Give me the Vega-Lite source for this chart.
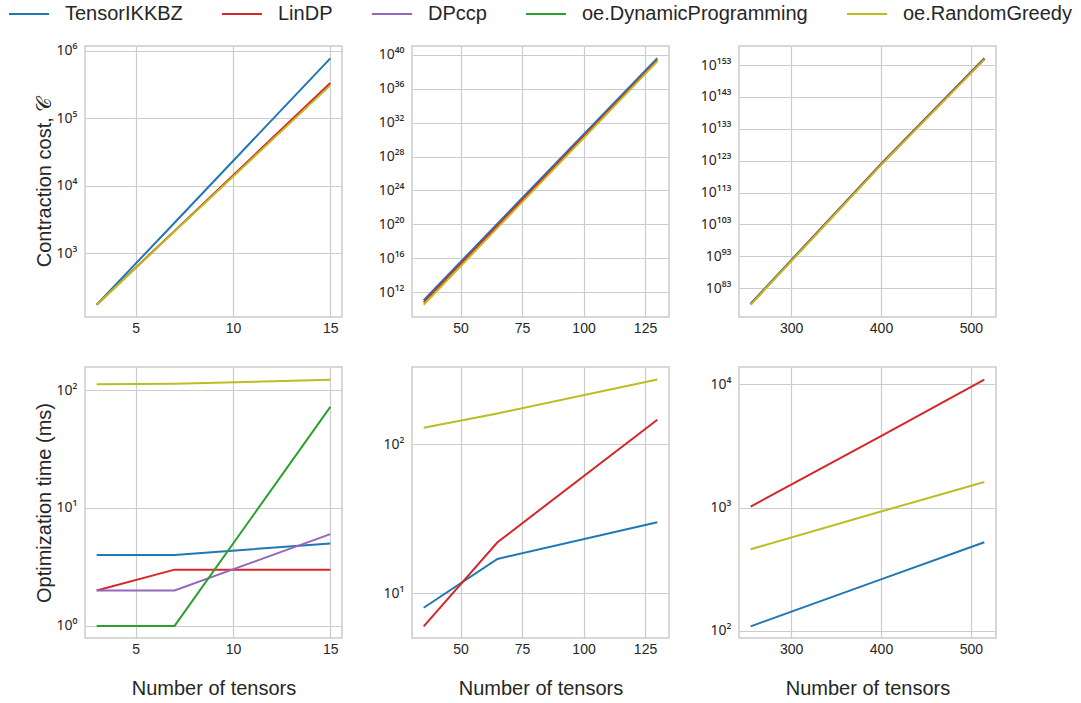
{
  "$schema": "https://vega.github.io/schema/vega-lite/v6.json",
  "background": "white",
  "padding": {"left": 4, "top": 4, "right": 5, "bottom": 5},
  "data": {"values": [
    {"panel": "p1", "method": "TensorIKKBZ", "n": 3, "value": 173},
    {"panel": "p1", "method": "TensorIKKBZ", "n": 7, "value": 2840},
    {"panel": "p1", "method": "TensorIKKBZ", "n": 15, "value": 778000},
    {"panel": "p1", "method": "LinDP", "n": 3, "value": 173},
    {"panel": "p1", "method": "LinDP", "n": 7, "value": 2150},
    {"panel": "p1", "method": "LinDP", "n": 15, "value": 334000},
    {"panel": "p1", "method": "oe.RandomGreedy", "n": 3, "value": 172},
    {"panel": "p1", "method": "oe.RandomGreedy", "n": 7, "value": 2100},
    {"panel": "p1", "method": "oe.RandomGreedy", "n": 15, "value": 309000},
    {"panel": "p2", "method": "TensorIKKBZ", "n": 35, "value": 1.15e11},
    {"panel": "p2", "method": "TensorIKKBZ", "n": 65, "value": 1.26e20},
    {"panel": "p2", "method": "TensorIKKBZ", "n": 130, "value": 3.8e39},
    {"panel": "p2", "method": "LinDP", "n": 35, "value": 6.6e10},
    {"panel": "p2", "method": "LinDP", "n": 65, "value": 7.08e19},
    {"panel": "p2", "method": "LinDP", "n": 130, "value": 2.19e39},
    {"panel": "p2", "method": "oe.RandomGreedy", "n": 35, "value": 3.47e10},
    {"panel": "p2", "method": "oe.RandomGreedy", "n": 65, "value": 3.98e19},
    {"panel": "p2", "method": "oe.RandomGreedy", "n": 130, "value": 1.66e39},
    {"panel": "p3", "method": "TensorIKKBZ", "n": 255, "value": 1.58e78},
    {"panel": "p3", "method": "TensorIKKBZ", "n": 400, "value": 1e122},
    {"panel": "p3", "method": "TensorIKKBZ", "n": 515, "value": 1.26e155},
    {"panel": "p3", "method": "LinDP", "n": 255, "value": 1e78},
    {"panel": "p3", "method": "LinDP", "n": 400, "value": 6.3e121},
    {"panel": "p3", "method": "LinDP", "n": 515, "value": 7.9e154},
    {"panel": "p3", "method": "oe.RandomGreedy", "n": 255, "value": 7.2e77},
    {"panel": "p3", "method": "oe.RandomGreedy", "n": 400, "value": 4e121},
    {"panel": "p3", "method": "oe.RandomGreedy", "n": 515, "value": 5e154},
    {"panel": "p4", "method": "TensorIKKBZ", "n": 3, "value": 4},
    {"panel": "p4", "method": "TensorIKKBZ", "n": 7, "value": 4},
    {"panel": "p4", "method": "TensorIKKBZ", "n": 15, "value": 5},
    {"panel": "p4", "method": "LinDP", "n": 3, "value": 2},
    {"panel": "p4", "method": "LinDP", "n": 7, "value": 3},
    {"panel": "p4", "method": "LinDP", "n": 15, "value": 3},
    {"panel": "p4", "method": "DPccp", "n": 3, "value": 2},
    {"panel": "p4", "method": "DPccp", "n": 7, "value": 2},
    {"panel": "p4", "method": "DPccp", "n": 15, "value": 6},
    {"panel": "p4", "method": "oe.DynamicProgramming", "n": 3, "value": 1},
    {"panel": "p4", "method": "oe.DynamicProgramming", "n": 7, "value": 1},
    {"panel": "p4", "method": "oe.DynamicProgramming", "n": 15, "value": 72},
    {"panel": "p4", "method": "oe.RandomGreedy", "n": 3, "value": 112},
    {"panel": "p4", "method": "oe.RandomGreedy", "n": 7, "value": 113},
    {"panel": "p4", "method": "oe.RandomGreedy", "n": 15, "value": 122},
    {"panel": "p5", "method": "TensorIKKBZ", "n": 35, "value": 8},
    {"panel": "p5", "method": "TensorIKKBZ", "n": 65, "value": 17},
    {"panel": "p5", "method": "TensorIKKBZ", "n": 130, "value": 30},
    {"panel": "p5", "method": "LinDP", "n": 35, "value": 6},
    {"panel": "p5", "method": "LinDP", "n": 65, "value": 22},
    {"panel": "p5", "method": "LinDP", "n": 130, "value": 146},
    {"panel": "p5", "method": "oe.RandomGreedy", "n": 35, "value": 129},
    {"panel": "p5", "method": "oe.RandomGreedy", "n": 65, "value": 161},
    {"panel": "p5", "method": "oe.RandomGreedy", "n": 130, "value": 272},
    {"panel": "p6", "method": "TensorIKKBZ", "n": 255, "value": 109},
    {"panel": "p6", "method": "TensorIKKBZ", "n": 400, "value": 262},
    {"panel": "p6", "method": "TensorIKKBZ", "n": 515, "value": 524},
    {"panel": "p6", "method": "LinDP", "n": 255, "value": 1019},
    {"panel": "p6", "method": "LinDP", "n": 400, "value": 3800},
    {"panel": "p6", "method": "LinDP", "n": 515, "value": 10900},
    {"panel": "p6", "method": "oe.RandomGreedy", "n": 255, "value": 460},
    {"panel": "p6", "method": "oe.RandomGreedy", "n": 400, "value": 929},
    {"panel": "p6", "method": "oe.RandomGreedy", "n": 515, "value": 1615}
  ]},
  "columns": 3,
  "spacing": {"row": 50, "column": 70},
  "bounds": "flush",
  "concat": [
    {
      "width": 257, "height": 271,
      "transform": [{"filter": "datum.panel === 'p1'"}],
      "mark": {"type": "line", "strokeWidth": 2},
      "encoding": {
        "x": {"field": "n", "type": "quantitative", "scale": {"domain": [2.4, 15.6], "nice": false, "zero": false}, "axis": {"values": [5, 10, 15], "title": null}},
        "y": {"field": "value", "type": "quantitative", "scale": {"type": "log", "domain": [113.5, 1185000], "nice": false}, "axis": {"values": [1000, 10000, 100000, 1000000], "title": "Contraction cost, 𝒞", "labelExpr": "'10' + replace(replace(replace(replace(replace(replace(replace(replace(replace(replace(toString(round(log(datum.value)/LN10)), regexp('0','g'), '⁰'), regexp('1','g'), '¹'), regexp('2','g'), '²'), regexp('3','g'), '³'), regexp('4','g'), '⁴'), regexp('5','g'), '⁵'), regexp('6','g'), '⁶'), regexp('7','g'), '⁷'), regexp('8','g'), '⁸'), regexp('9','g'), '⁹')"}},
        "color": {"field": "method", "type": "nominal",
          "scale": {"domain": ["TensorIKKBZ", "LinDP", "DPccp", "oe.DynamicProgramming", "oe.RandomGreedy"], "range": ["#1f77b4", "#d62728", "#9467bd", "#2ca02c", "#bcbd22"]},
          "legend": {"orient": "none", "legendX": -81, "legendY": -42, "direction": "horizontal", "columns": 5, "title": null, "symbolType": "M-1,0H7", "symbolSize": 100, "symbolStrokeWidth": 2, "labelOffset": 41, "columnPadding": 34, "labelFontSize": 20, "labelFont": "Liberation Sans", "labelColor": "#262626", "labelLimit": 400}}
      }
    },
    {
      "width": 257, "height": 271,
      "transform": [{"filter": "datum.panel === 'p2'"}],
      "mark": {"type": "line", "strokeWidth": 2},
      "encoding": {
        "x": {"field": "n", "type": "quantitative", "scale": {"domain": [30.25, 134.75], "nice": false, "zero": false}, "axis": {"values": [50, 75, 100, 125], "title": null}},
        "y": {"field": "value", "type": "quantitative", "scale": {"type": "log", "domain": [1.23e9, 1.07e41], "nice": false}, "axis": {"values": [1e12, 1e16, 1e20, 1e24, 1e28, 1e32, 1e36, 1e40], "title": null, "labelExpr": "'10' + replace(replace(replace(replace(replace(replace(replace(replace(replace(replace(toString(round(log(datum.value)/LN10)), regexp('0','g'), '⁰'), regexp('1','g'), '¹'), regexp('2','g'), '²'), regexp('3','g'), '³'), regexp('4','g'), '⁴'), regexp('5','g'), '⁵'), regexp('6','g'), '⁶'), regexp('7','g'), '⁷'), regexp('8','g'), '⁸'), regexp('9','g'), '⁹')"}},
        "color": {"field": "method", "type": "nominal"}
      }
    },
    {
      "width": 257, "height": 271,
      "transform": [{"filter": "datum.panel === 'p3'"}],
      "mark": {"type": "line", "strokeWidth": 2},
      "encoding": {
        "x": {"field": "n", "type": "quantitative", "scale": {"domain": [242, 528], "nice": false, "zero": false}, "axis": {"values": [300, 400, 500], "title": null}},
        "y": {"field": "value", "type": "quantitative", "scale": {"type": "log", "domain": [1e74, 9.1e158], "nice": false}, "axis": {"values": [1e83, 1e93, 1e103, 1e113, 1e123, 1e133, 1e143, 1e153], "title": null, "labelExpr": "'10' + replace(replace(replace(replace(replace(replace(replace(replace(replace(replace(toString(round(log(datum.value)/LN10)), regexp('0','g'), '⁰'), regexp('1','g'), '¹'), regexp('2','g'), '²'), regexp('3','g'), '³'), regexp('4','g'), '⁴'), regexp('5','g'), '⁵'), regexp('6','g'), '⁶'), regexp('7','g'), '⁷'), regexp('8','g'), '⁸'), regexp('9','g'), '⁹')"}},
        "color": {"field": "method", "type": "nominal"}
      }
    },
    {
      "width": 257, "height": 271,
      "transform": [{"filter": "datum.panel === 'p4'"}],
      "mark": {"type": "line", "strokeWidth": 2},
      "encoding": {
        "x": {"field": "n", "type": "quantitative", "scale": {"domain": [2.4, 15.6], "nice": false, "zero": false}, "axis": {"values": [5, 10, 15], "title": "Number of tensors"}},
        "y": {"field": "value", "type": "quantitative", "scale": {"type": "log", "domain": [0.79, 156.7], "nice": false}, "axis": {"values": [1, 10, 100], "title": "Optimization time (ms)", "labelExpr": "'10' + replace(replace(replace(replace(replace(replace(replace(replace(replace(replace(toString(round(log(datum.value)/LN10)), regexp('0','g'), '⁰'), regexp('1','g'), '¹'), regexp('2','g'), '²'), regexp('3','g'), '³'), regexp('4','g'), '⁴'), regexp('5','g'), '⁵'), regexp('6','g'), '⁶'), regexp('7','g'), '⁷'), regexp('8','g'), '⁸'), regexp('9','g'), '⁹')"}},
        "color": {"field": "method", "type": "nominal"}
      }
    },
    {
      "width": 257, "height": 271,
      "transform": [{"filter": "datum.panel === 'p5'"}],
      "mark": {"type": "line", "strokeWidth": 2},
      "encoding": {
        "x": {"field": "n", "type": "quantitative", "scale": {"domain": [30.25, 134.75], "nice": false, "zero": false}, "axis": {"values": [50, 75, 100, 125], "title": "Number of tensors"}},
        "y": {"field": "value", "type": "quantitative", "scale": {"type": "log", "domain": [5.01, 330], "nice": false}, "axis": {"values": [10, 100], "title": null, "labelExpr": "'10' + replace(replace(replace(replace(replace(replace(replace(replace(replace(replace(toString(round(log(datum.value)/LN10)), regexp('0','g'), '⁰'), regexp('1','g'), '¹'), regexp('2','g'), '²'), regexp('3','g'), '³'), regexp('4','g'), '⁴'), regexp('5','g'), '⁵'), regexp('6','g'), '⁶'), regexp('7','g'), '⁷'), regexp('8','g'), '⁸'), regexp('9','g'), '⁹')"}},
        "color": {"field": "method", "type": "nominal"}
      }
    },
    {
      "width": 257, "height": 271,
      "transform": [{"filter": "datum.panel === 'p6'"}],
      "mark": {"type": "line", "strokeWidth": 2},
      "encoding": {
        "x": {"field": "n", "type": "quantitative", "scale": {"domain": [242, 528], "nice": false, "zero": false}, "axis": {"values": [300, 400, 500], "title": "Number of tensors"}},
        "y": {"field": "value", "type": "quantitative", "scale": {"type": "log", "domain": [87.7, 13800], "nice": false}, "axis": {"values": [100, 1000, 10000], "title": null, "labelExpr": "'10' + replace(replace(replace(replace(replace(replace(replace(replace(replace(replace(toString(round(log(datum.value)/LN10)), regexp('0','g'), '⁰'), regexp('1','g'), '¹'), regexp('2','g'), '²'), regexp('3','g'), '³'), regexp('4','g'), '⁴'), regexp('5','g'), '⁵'), regexp('6','g'), '⁶'), regexp('7','g'), '⁷'), regexp('8','g'), '⁸'), regexp('9','g'), '⁹')"}},
        "color": {"field": "method", "type": "nominal"}
      }
    }
  ],
  "config": {
    "font": "Liberation Sans",
    "view": {"stroke": "#cccccc", "strokeWidth": 1.5},
    "axis": {"grid": true, "gridColor": "#cccccc", "gridWidth": 1.2, "domain": false, "ticks": false, "labelFontSize": 14, "labelColor": "#262626", "labelFont": "Liberation Sans", "titleFont": "Liberation Sans", "titleFontSize": 20, "titleFontWeight": "normal", "titleColor": "#262626", "labelOverlap": false, "labelFlush": false},
    "axisX": {"labelPadding": 4, "titlePadding": 22},
    "axisY": {"labelPadding": 8, "titlePadding": 2, "labelFont": "Noto Sans", "labelFontSize": 14}
  }
}
